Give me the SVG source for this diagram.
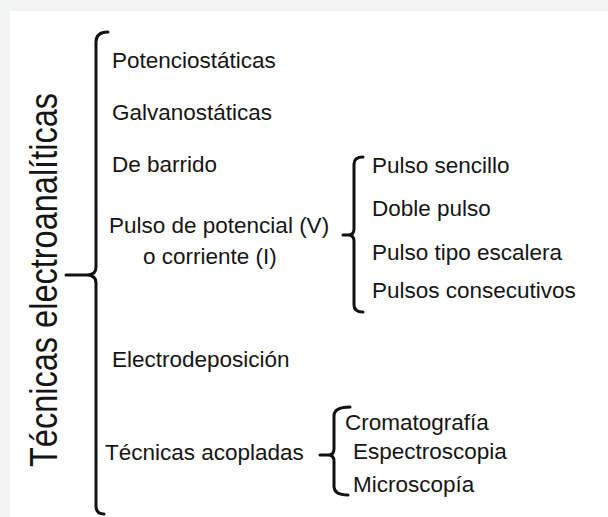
<svg xmlns="http://www.w3.org/2000/svg" width="608" height="517" viewBox="0 0 608 517">
<style>
.t{font-family:"Liberation Sans",Arial,sans-serif;font-size:22.5px;fill:#151515}
.b{fill:none;stroke:#111;stroke-width:3;stroke-linecap:round;stroke-linejoin:round}
</style>
<rect x="0" y="0" width="608" height="517" fill="#f2f3f3"/>
<rect x="10" y="11" width="598" height="506" fill="#ffffff"/>
<g id="title"><text class="t" transform="translate(57,467) rotate(-90)" style="font-size:38px" textLength="374" lengthAdjust="spacingAndGlyphs">Técnicas electroanalíticas</text></g>
<g id="connectors">
<path class="b" d="M108,32 Q96,32 96,42 V267 Q96,275 87,275 H66 M87,275 Q96,275 96,283 V506 Q96,514 104,514"/>
<path class="b" d="M363,157 Q354,157 354,164 V229 Q354,235 348,235 H343 M348,235 Q354,235 354,241 V305 Q354,312 363,312"/>
<path class="b" d="M350,407 Q334,407 334,416 V449 Q334,455 328,455 H320 M328,455 Q334,455 334,461 V486 Q334,495 348,495"/>
</g>
<g id="n1"><text class="t" x="112" y="68">Potenciostáticas</text></g>
<g id="n2"><text class="t" x="112" y="120">Galvanostáticas</text></g>
<g id="n3"><text class="t" x="112" y="172">De barrido</text></g>
<g id="n4"><text class="t" x="109" y="233">Pulso de potencial (V)</text><text class="t" x="143" y="264">o corriente (I)</text></g>
<g id="n5"><text class="t" x="112" y="367">Electrodeposición</text></g>
<g id="n6"><text class="t" x="105" y="460">Técnicas acopladas</text></g>
<g id="n7"><text class="t" x="372" y="173">Pulso sencillo</text></g>
<g id="n8"><text class="t" x="372" y="216">Doble pulso</text></g>
<g id="n9"><text class="t" x="372" y="260">Pulso tipo escalera</text></g>
<g id="n10"><text class="t" x="372" y="298">Pulsos consecutivos</text></g>
<g id="n11"><text class="t" x="345" y="430">Cromatografía</text></g>
<g id="n12"><text class="t" x="353" y="459">Espectroscopia</text></g>
<g id="n13"><text class="t" x="353" y="492">Microscopía</text></g>
</svg>
